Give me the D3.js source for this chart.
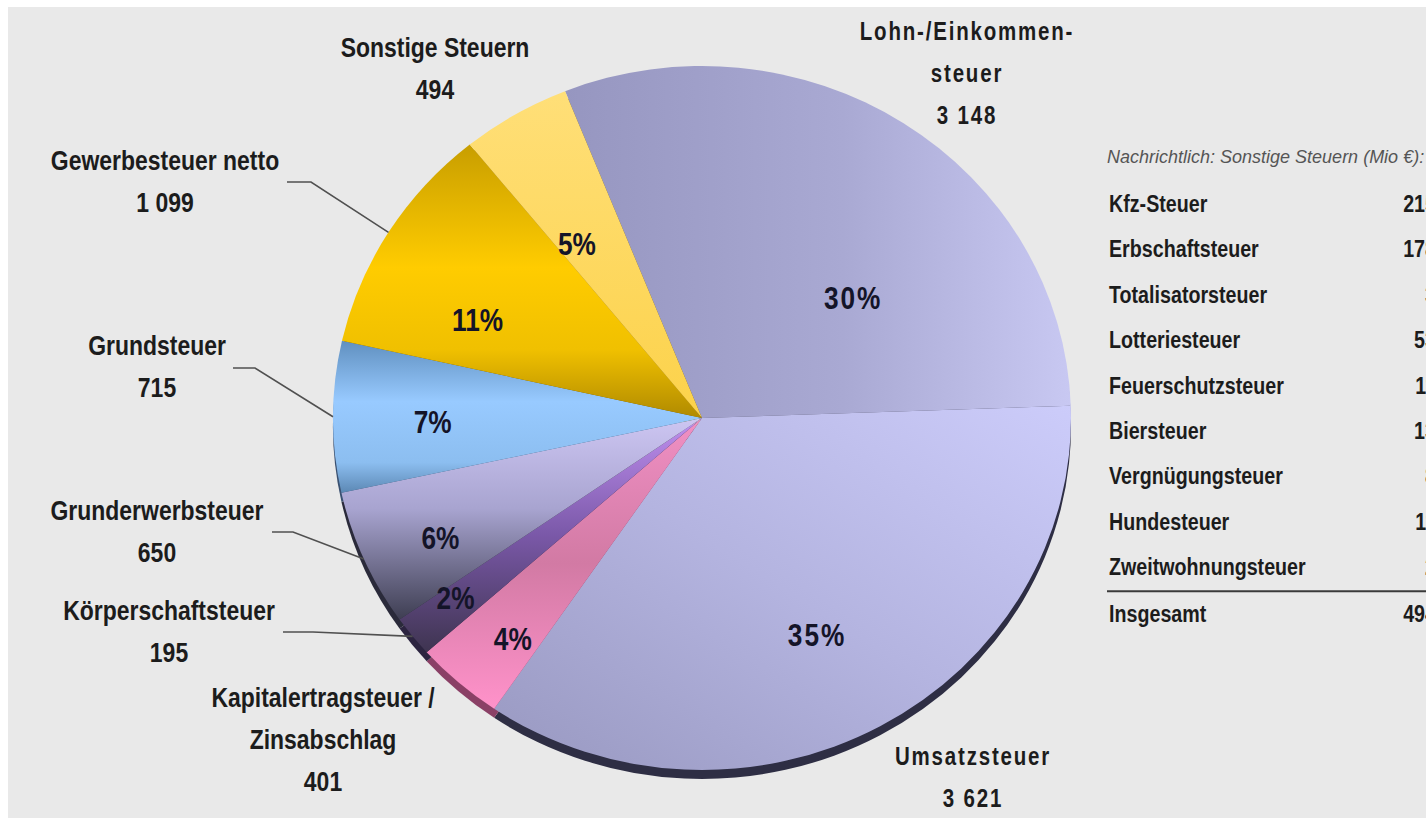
<!DOCTYPE html>
<html>
<head>
<meta charset="utf-8">
<script src="https://cdn.jsdelivr.net/npm/d3@7"></script>
<style>
  body { margin: 0; background: #fff; }
  svg { display: block; }
</style>
</head>
<body>
<svg id="chart" width="1426" height="818"></svg>
<script>
// ---- data (Mio €) ----
const categories = [
  "Lohn-/Einkommensteuer", "Umsatzsteuer", "Kapitalertragsteuer / Zinsabschlag",
  "Körperschaftsteuer", "Grunderwerbsteuer", "Grundsteuer",
  "Gewerbesteuer netto", "Sonstige Steuern"
];
const labelLines = [
  ["Lohn-/Einkommen-", "steuer"], ["Umsatzsteuer"], ["Kapitalertragsteuer /", "Zinsabschlag"],
  ["Körperschaftsteuer"], ["Grunderwerbsteuer"], ["Grundsteuer"],
  ["Gewerbesteuer netto"], ["Sonstige Steuern"]
];
const values = [3148, 3621, 401, 195, 650, 715, 1099, 494];

const tableTitle = "Nachrichtlich: Sonstige Steuern (Mio €):";
const otherTaxes = [
  "Kfz-Steuer", "Erbschaftsteuer", "Totalisatorsteuer", "Lotteriesteuer",
  "Feuerschutzsteuer", "Biersteuer", "Vergnügungsteuer", "Hundesteuer", "Zweitwohnungsteuer"
];
const otherValues = [215, 178, 3, 53, 11, 13, 8, 11, 2];
const totalLabel = "Insgesamt";

// ---- look ----
const SANS = "'Liberation Sans',Arial,sans-serif";
const SX = 0.82; // squeeze Liberation Sans to an Arial Narrow look

const gradients = [
  { dir: [0, 0, 1, 0], stops: [[0, "#9696c0"], [0.55, "#a9a9d3"], [1, "#c8c8f2"]] },
  { dir: [0, 1, 1, 0], stops: [[0, "#9898c0"], [0.5, "#b4b4e0"], [1, "#ccccfa"]] },
  { dir: [0, 0, 0, 1], stops: [[0, "#f090c4"], [0.5, "#d27aa4"], [1, "#ff92ca"]] },
  { dir: [0, 0, 0, 1], stops: [[0, "#c090f0"], [0.5, "#7a58a8"], [1, "#3e3450"]] },
  { dir: [0, 0, 0, 1], stops: [[0, "#cdc6f2"], [0.45, "#a8a4d0"], [1, "#3e3e52"]] },
  { dir: [0, 0, 0, 1], stops: [[0, "#6090c0"], [0.4, "#98caff"], [0.8, "#8cbef0"], [1, "#5c88b4"]] },
  { dir: [0, 0, 0, 1], stops: [[0, "#c89e00"], [0.45, "#ffcc00"], [0.75, "#f0c000"], [1, "#b08a00"]] },
  { dir: [0, 0, 0, 1], stops: [[0, "#ffdf78"], [1, "#fcd24a"]] }
];
const sideColors = ["#3c3c50", "#2e2e44", "#8a4066", "#2c2440", "#2a2a3a", "#3a5070", "#6a5200", "#8a7020"];

// percent label placement: [radius factor, angle nudge in degrees, letter spacing]
const pctPlace = [[0.534, 17, 2], [0.69, 2, 2], [0.81, -2, 0], [0.84, 1, 0], [0.786, -2, 0], [0.73, -1, 0], [0.67, -7, 0], [0.60, -4, 0]];

// outside labels: centre x, first baseline, optional leader [x0, x1, y]
const labelLayout = [
  { x: 967, y: 40, wide: true },
  { x: 973, y: 765, wide: true },
  { x: 323, y: 707 },
  { x: 169, y: 620, lead: [283, 313, 632] },
  { x: 157, y: 520, lead: [272, 293, 532] },
  { x: 157, y: 355, lead: [233, 255, 368] },
  { x: 165, y: 170, lead: [287, 311, 182] },
  { x: 435, y: 57 }
];

const cx = 702, cy = 418, RX = 369, RY = 352, depth = 9;
const rotation = -2 * Math.PI / 180;

const svg = d3.select('#chart');

// background panel
svg.append('rect')
  .attr('x', 8).attr('y', 7)
  .attr('width', 1426).attr('height', 818)
  .attr('fill', '#e9e9e9');

const defs = svg.append('defs');
gradients.forEach((g, i) => {
  const lg = defs.append('linearGradient')
    .attr('id', 'grad' + i)
    .attr('x1', g.dir[0]).attr('y1', g.dir[1])
    .attr('x2', g.dir[2]).attr('y2', g.dir[3]);
  g.stops.forEach(s => lg.append('stop').attr('offset', s[0]).attr('stop-color', s[1]));
});

// narrow bold text block, anchored at (x, y)
function narrowText(parent, x, y, lines, size, opts = {}) {
  const g = parent.append('g').attr('transform', `translate(${x},${y}) scale(${SX},1)`);
  const t = g.append('text')
    .attr('text-anchor', opts.anchor || 'middle')
    .attr('font-family', SANS)
    .attr('font-weight', 'bold')
    .attr('font-size', size)
    .attr('letter-spacing', (opts.spacing || 0) / SX)
    .attr('fill', opts.fill || '#1c1c1c');
  lines.forEach((s, k) => {
    t.append('tspan').attr('x', 0).attr('y', k * (opts.lineH || 0)).attr('dy', opts.dy || null).text(s);
  });
  return g;
}

const total = d3.sum(values);
const start = Math.PI / 2 - 2 * Math.PI * values[0] / total + rotation;

const pie = d3.pie().sort(null).value(d => d)
  .startAngle(start).endAngle(start + 2 * Math.PI);
const arcs = pie(values);

const arc = d3.arc().innerRadius(0).outerRadius(RX);

const chart = svg.append('g').attr('transform', `translate(${cx},${cy})`);

// 3d side
chart.append('g')
  .attr('transform', `translate(0,${depth}) scale(1,${RY / RX})`)
  .selectAll('path')
  .data(arcs)
  .join('path')
  .attr('d', arc)
  .attr('fill', (d, i) => sideColors[i]);

// top face
chart.append('g')
  .attr('transform', `scale(1,${RY / RX})`)
  .selectAll('path')
  .data(arcs)
  .join('path')
  .attr('d', arc)
  .attr('fill', (d, i) => `url(#grad${i})`);

const ellPt = (a, f) => [RX * f * Math.sin(a), -RY * f * Math.cos(a)];
const midAngle = d => (d.startAngle + d.endAngle) / 2;

// percent labels
const pct = d3.format('.0%');
arcs.forEach((d, i) => {
  const p = ellPt(midAngle(d) + pctPlace[i][1] * Math.PI / 180, pctPlace[i][0]);
  narrowText(chart, p[0], p[1], [pct(d.value / total)], 32,
    { dy: '0.36em', fill: '#141428', spacing: pctPlace[i][2] });
});

// leader lines
const line = d3.line();
arcs.forEach((d, i) => {
  const L = labelLayout[i].lead;
  if (!L) return;
  const p = ellPt(midAngle(d), 1);
  svg.append('path')
    .attr('d', line([[L[0], L[2]], [L[1], L[2]], [cx + p[0], cy + p[1]]]))
    .attr('fill', 'none')
    .attr('stroke', '#505050')
    .attr('stroke-width', 1.6);
});

// outside labels
const num = d3.formatLocale({ decimal: ",", thousands: " ", grouping: [3], currency: ["", " €"] }).format(',d');
labelLines.forEach((lines, i) => {
  const lay = labelLayout[i];
  narrowText(svg, lay.x, lay.y, lines.concat([num(values[i])]), lay.wide ? 25 : 28,
    { lineH: 42, spacing: lay.wide ? 1.8 : 0 });
});

// side table of other taxes
const tx = 1109, tRight = 1436, row0 = 212, rowH = 45.4;
svg.append('text')
  .attr('x', 1107).attr('y', 163)
  .attr('font-family', SANS)
  .attr('font-style', 'italic')
  .attr('font-size', 18)
  .attr('fill', '#555')
  .text(tableTitle);

otherTaxes.forEach((name, i) => {
  narrowText(svg, tx, row0 + i * rowH, [name], 24, { anchor: 'start' });
  narrowText(svg, tRight, row0 + i * rowH, [num(otherValues[i])], 24, { anchor: 'end' });
});

const sepY = row0 + (otherTaxes.length - 1) * rowH + 16;
svg.append('line')
  .attr('x1', 1107).attr('x2', 1426)
  .attr('y1', sepY).attr('y2', sepY)
  .attr('stroke', '#3a3a3a').attr('stroke-width', 2);

const totY = row0 + otherTaxes.length * rowH + 1;
narrowText(svg, tx, totY, [totalLabel], 24, { anchor: 'start' });
narrowText(svg, tRight, totY, [num(d3.sum(otherValues))], 24, { anchor: 'end' });
</script>
</body>
</html>
